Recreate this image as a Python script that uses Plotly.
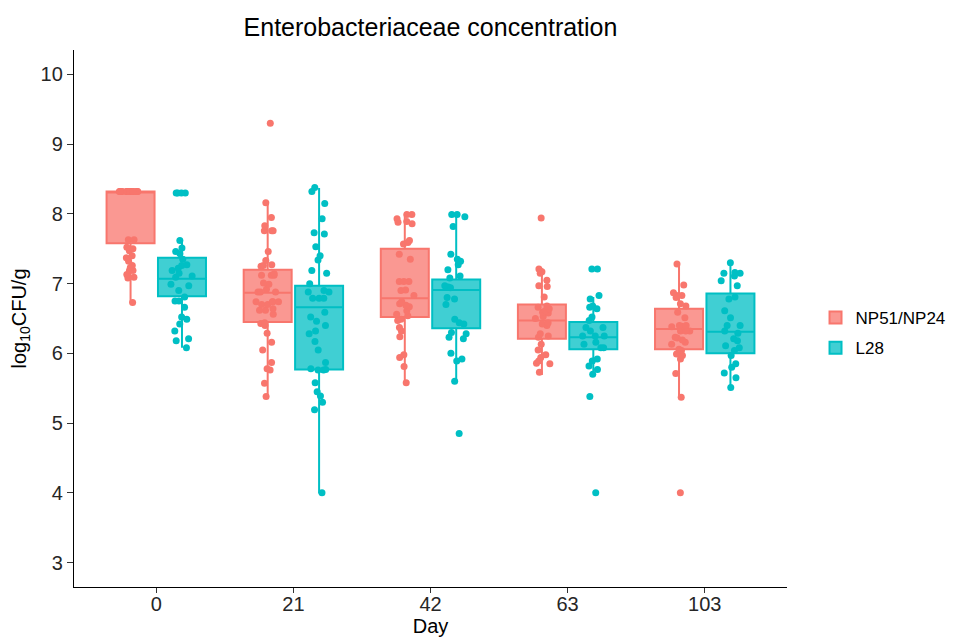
import plotly.graph_objects as go

days = ["0", "21", "42", "63", "103"]
groups = ["NP51/NP24", "L28"]

# Box statistics
np_q1 = [7.58, 6.45, 6.52, 6.21, 6.06]
np_med = [8.32, 6.87, 6.79, 6.47, 6.35]
np_q3 = [8.32, 7.20, 7.50, 6.70, 6.64]
np_lo = [6.72, 5.38, 5.58, 5.69, 5.37]
np_hi = [8.32, 8.17, 7.99, 7.22, 7.27]

l28_q1 = [6.82, 5.77, 6.36, 6.06, 6.00]
l28_med = [7.07, 6.66, 6.91, 6.23, 6.31]
l28_q3 = [7.37, 6.97, 7.06, 6.45, 6.86]
l28_lo = [6.08, 3.99, 5.60, 5.70, 5.47]
l28_hi = [7.61, 8.37, 7.99, 6.81, 7.30]

# Individual observations (log10 CFU/g)
np_d0 = [8.32] * 18 + [7.63, 7.63, 7.52, 7.50, 7.47, 7.40, 7.37, 7.32, 7.26, 7.23,
                       7.19, 7.19, 7.13, 7.08, 7.09, 6.73]
np_d21 = [9.30, 8.16, 7.95, 7.83, 7.76, 7.76, 7.76, 7.46, 7.33, 7.27, 7.26, 7.25, 7.14,
          7.12, 7.12, 7.12, 6.99, 7.01, 6.92, 6.88, 6.88, 6.88, 6.74, 6.74, 6.74, 6.74,
          6.70, 6.70, 6.64, 6.62, 6.62, 6.56, 6.44, 6.43, 6.40, 6.29, 6.16, 6.05, 5.87,
          5.78, 5.76, 5.57, 5.38]
np_d42 = [7.99, 7.88, 7.86, 7.89, 7.93, 7.99, 7.59, 7.62, 7.57, 7.42, 7.35, 7.03, 7.03,
          7.03, 6.90, 6.91, 6.83, 6.71, 6.69, 6.67, 6.74, 6.61, 6.54, 6.56, 6.49, 6.47,
          6.37, 6.32, 6.24, 5.98, 5.94, 5.81, 5.58]
np_d63 = [7.94, 7.15, 7.21, 7.17, 7.05, 6.97, 6.96, 6.81, 6.66, 6.68, 6.64, 6.61, 6.53,
          6.50, 6.58, 6.59, 6.42, 6.44, 6.40, 6.23, 6.28, 6.25, 6.13, 6.05, 5.98, 5.94,
          5.85, 5.86, 5.89, 5.73]
np_d103 = [7.28, 6.98, 6.87, 6.83, 6.80, 6.83, 6.71, 6.68, 6.59, 6.51, 6.40, 6.40, 6.39,
           6.38, 6.32, 6.32, 6.32, 6.23, 6.22, 6.19, 6.16, 6.13, 6.06, 6.04, 5.99, 5.92,
           5.97, 5.71, 5.37, 4.00]

l28_d0 = [8.30, 8.30, 8.30, 8.30, 7.62, 7.51, 7.46, 7.43, 7.35, 7.26, 7.27, 7.19, 7.22,
          7.15, 7.11, 7.09, 6.99, 6.97, 6.90, 6.81, 6.75, 6.75, 6.66, 6.52, 6.49, 6.42,
          6.32, 6.21, 6.18, 6.08]
l28_d21 = [8.38, 8.32, 8.15, 7.93, 7.73, 7.71, 7.53, 7.40, 7.34, 7.19, 7.15, 7.00, 6.90,
           6.88, 6.88, 6.79, 6.79, 6.79, 6.59, 6.52, 6.46, 6.40, 6.32, 6.28, 6.17, 6.05,
           5.87, 5.77, 5.76, 5.76, 5.78, 5.58, 5.45, 5.39, 5.30, 5.19, 4.00]
l28_d42 = [7.96, 7.99, 7.99, 7.82, 7.42, 7.35, 7.32, 7.27, 7.20, 7.11, 7.08, 6.97, 6.95,
           6.94, 6.80, 6.78, 6.70, 6.49, 6.44, 6.42, 6.28, 6.30, 6.23, 6.21, 6.00, 5.92,
           5.89, 5.60, 4.85]
l28_d63 = [7.21, 7.21, 6.83, 6.78, 6.68, 6.64, 6.66, 6.52, 6.47, 6.37, 6.37, 6.32, 6.25,
           6.25, 6.25, 6.16, 6.13, 6.08, 6.08, 5.92, 5.89, 5.82, 5.77, 5.70, 5.38, 4.00]
l28_d103 = [7.30, 7.16, 7.11, 7.15, 7.15, 7.04, 6.97, 6.78, 6.81, 6.61, 6.51, 6.40, 6.40,
            6.29, 6.32, 6.21, 6.18, 6.08, 6.11, 6.04, 5.97, 5.85, 5.80, 5.72, 5.65, 5.51]

np_points = [np_d0, np_d21, np_d42, np_d63, np_d103]
l28_points = [l28_d0, l28_d21, l28_d42, l28_d63, l28_d103]

red = "#F8766D"
teal = "#00BFC4"
red_fill = "rgba(248,118,109,0.75)"
teal_fill = "rgba(0,191,196,0.75)"

font_family = "Liberation Sans, Arial, sans-serif"
text_col = "#262626"

fig = go.Figure()


def add_group(name, color, fill, q1, med, q3, lo, hi, og):
    fig.add_trace(go.Box(
        name=name, x=days, q1=q1, median=med, q3=q3,
        lowerfence=lo, upperfence=hi,
        fillcolor=fill, line=dict(color=color, width=2),
        whiskerwidth=0, boxpoints=False, offsetgroup=og, legendgroup=og,
        showlegend=True,
    ))


def add_points(name, color, pts, og):
    xs, ys = [], []
    for d, vals in zip(days, pts):
        xs += [d] * len(vals)
        ys += vals
    fig.add_trace(go.Box(
        name=name, x=xs, y=ys, boxpoints="all", jitter=0.5, pointpos=0,
        fillcolor="rgba(0,0,0,0)", line=dict(color="rgba(0,0,0,0)", width=0),
        marker=dict(color=color, size=7, line=dict(width=0)),
        whiskerwidth=0, offsetgroup=og, legendgroup=og, showlegend=False,
        hoveron="points",
    ))


add_group(groups[0], red, red_fill, np_q1, np_med, np_q3, np_lo, np_hi, "NP")
add_group(groups[1], teal, teal_fill, l28_q1, l28_med, l28_q3, l28_lo, l28_hi, "L28")
add_points(groups[0], red, np_points, "NP")
add_points(groups[1], teal, l28_points, "L28")

# The page adds an 8 px body margin, so the figure is 8 px smaller and shifted.
fig.update_layout(
    width=948, height=630,
    margin=dict(l=66, r=169, t=42, b=51, autoexpand=False),
    paper_bgcolor="white", plot_bgcolor="white",
    boxmode="group", boxgap=0.25, boxgroupgap=0.0667,
    font=dict(family=font_family, color=text_col),
    title=dict(text="Enterobacteriaceae concentration", xref="paper", x=0.5,
               xanchor="center", yref="container", y=0.970, yanchor="middle",
               font=dict(size=25, color="black", family=font_family)),
    legend=dict(x=1.04, xanchor="left", y=0.473, yanchor="middle",
                font=dict(size=17, color="black"), tracegroupgap=5,
                bgcolor="rgba(0,0,0,0)"),
    showlegend=True,
)

fig.update_xaxes(
    type="category", categoryorder="array", categoryarray=days,
    range=[-0.6, 4.6], showline=True, linecolor="black", linewidth=1.3,
    ticks="outside", ticklen=5, tickcolor="#333333", tickwidth=1.3,
    tickfont=dict(size=20, color=text_col), showgrid=False, zeroline=False,
    automargin=False, ticklabelstandoff=-6,
    title=dict(text="Day", font=dict(size=20, color="black"), standoff=4),
)
fig.update_yaxes(
    range=[2.65, 10.35], tickvals=[3, 4, 5, 6, 7, 8, 9, 10],
    showline=True, linecolor="black", linewidth=1.3,
    ticks="outside", ticklen=6, tickcolor="#333333", tickwidth=1.3,
    tickfont=dict(size=20, color=text_col), showgrid=False, zeroline=False,
    automargin=False,
    title=dict(text="log<sub>10</sub>CFU/g", font=dict(size=20, color="black"), standoff=8),
)

fig.write_html("out.html")
